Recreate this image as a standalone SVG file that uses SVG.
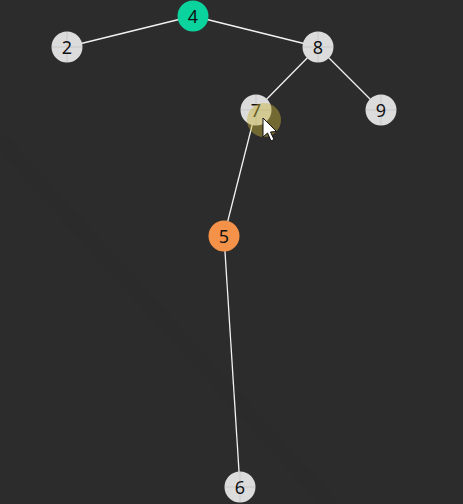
<svg xmlns="http://www.w3.org/2000/svg" width="463" height="504" viewBox="0 0 463 504">
<style>
.edge{stroke:#f2f2f2;stroke-width:1.3;fill:none}
.n{fill:#dcdcdc}
.x{stroke:#bdbdbd;stroke-width:0.6}
.t{font-family:"Noto Sans","Open Sans",sans-serif;font-size:18px;fill:#111;text-anchor:middle;dominant-baseline:central}
</style>
<rect width="463" height="504" fill="#2d2c2d"/>
<path d="M0 140 L330 504" stroke="#2a292a" stroke-width="14" fill="none" opacity="0.5"/>
<g id="connectors">
<line class="edge" x1="193" y1="16" x2="67" y2="47"/>
<line class="edge" x1="193" y1="16" x2="318" y2="47"/>
<line class="edge" x1="318" y1="47" x2="256" y2="110"/>
<line class="edge" x1="318" y1="47" x2="381" y2="110"/>
<line class="edge" x1="256" y1="110" x2="224" y2="236"/>
<line class="edge" x1="224" y1="236" x2="240" y2="487"/>
</g>
<g id="node-4"><circle cx="193" cy="16" r="15.5" fill="#0ad39d"/><text class="t" x="193" y="16">4</text></g>
<g id="node-2"><circle class="n" cx="67" cy="47" r="15.5"/><line class="x" x1="52" y1="47" x2="82" y2="47"/><line class="x" x1="67" y1="32" x2="67" y2="62"/><text class="t" x="67" y="47">2</text></g>
<g id="node-8"><circle class="n" cx="318" cy="47" r="15.5"/><line class="x" x1="303" y1="47" x2="333" y2="47"/><line class="x" x1="318" y1="32" x2="318" y2="62"/><text class="t" x="318" y="47">8</text></g>
<g id="node-7"><circle class="n" cx="256" cy="110" r="15.5"/><line class="x" x1="241" y1="110" x2="271" y2="110"/><line class="x" x1="256" y1="95" x2="256" y2="125"/><text class="t" x="256" y="110">7</text></g>
<g id="node-9"><circle class="n" cx="381" cy="110" r="15.5"/><line class="x" x1="366" y1="110" x2="396" y2="110"/><line class="x" x1="381" y1="95" x2="381" y2="125"/><text class="t" x="381" y="110">9</text></g>
<g id="node-5"><circle cx="224" cy="236" r="15.5" fill="#f5924a"/><text class="t" x="224" y="236">5</text></g>
<g id="node-6"><circle class="n" cx="240" cy="487" r="15.5"/><line class="x" x1="225" y1="487" x2="255" y2="487"/><line class="x" x1="240" y1="472" x2="240" y2="502"/><text class="t" x="240" y="487">6</text></g>
<circle cx="264" cy="120" r="17" fill="#c8b43a" opacity="0.45"/>
<path d="M263 118 L263 137 L267.5 133 L271 141 L274 139.5 L270.5 132 L276.5 131.5 Z" fill="#fff" stroke="#111" stroke-width="1"/>
</svg>
